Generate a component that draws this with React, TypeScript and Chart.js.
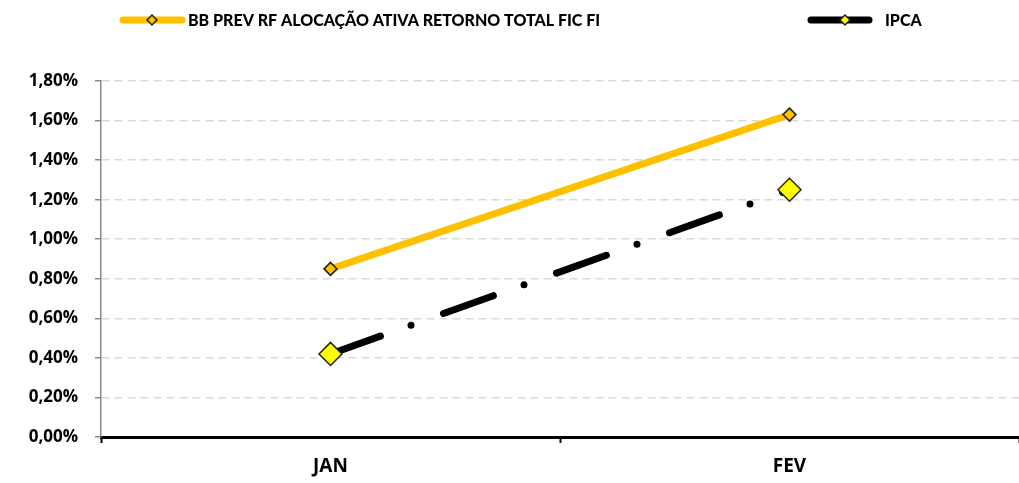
import React, { useEffect, useRef } from "react";
import { Chart, registerables } from "chart.js";

Chart.register(...registerables);

const categories = ["JAN", "FEV"];
const bbPrev = [0.85, 1.63];
const ipca = [0.42, 1.25];
const yTicks = [0, 0.2, 0.4, 0.6, 0.8, 1.0, 1.2, 1.4, 1.6, 1.8];
const seriesNames = ["BB PREV RF ALOCAÇÃO ATIVA RETORNO TOTAL FIC FI", "IPCA"];

const LEGEND_FONT = "Lato, 'Open Sans', sans-serif";
const TICK_FONT = "'Open Sans', Lato, sans-serif";

const legendPlugin = {
  id: "customLegend",
  afterDraw(chart: any) {
    const ctx = chart.ctx;
    ctx.save();
    const y = 20;
    ctx.lineCap = "round";
    ctx.strokeStyle = "#FFC000";
    ctx.lineWidth = 7;
    ctx.beginPath();
    ctx.moveTo(123, y);
    ctx.lineTo(182, y);
    ctx.stroke();
    drawDiamond(ctx, 152, y, 5, "#FFC000", "#222");
    ctx.strokeStyle = "#000";
    ctx.lineWidth = 7;
    ctx.lineCap = "round";
    ctx.beginPath();
    ctx.moveTo(811, y);
    ctx.lineTo(869, y);
    ctx.stroke();
    drawDiamond(ctx, 845, y, 5, "#FFFF00", "#222");
    ctx.fillStyle = "#000";
    ctx.font = `900 16px ${LEGEND_FONT}`;
    ctx.textBaseline = "middle";
    ctx.textAlign = "left";
    ctx.fillText(seriesNames[0], 188, y + 1);
    ctx.fillText(seriesNames[1], 885, y + 1);
    ctx.restore();
  },
};

function drawDiamond(ctx: any, x: number, y: number, r: number, fill: string, stroke: string) {
  ctx.beginPath();
  ctx.moveTo(x, y - r);
  ctx.lineTo(x + r, y);
  ctx.lineTo(x, y + r);
  ctx.lineTo(x - r, y);
  ctx.closePath();
  ctx.fillStyle = fill;
  ctx.fill();
  ctx.lineWidth = 1.5;
  ctx.lineCap = "butt";
  ctx.strokeStyle = stroke;
  ctx.stroke();
}

export default function App() {
  const ref = useRef<HTMLCanvasElement>(null);
  useEffect(() => {
    if (!ref.current) return;
    const chart = new Chart(ref.current, {
      type: "line",
      data: {
        labels: categories,
        datasets: [
          {
            label: seriesNames[0],
            data: bbPrev,
            borderColor: "#FFC000",
            borderWidth: 7,
            backgroundColor: "#FFC000",
            pointStyle: "rectRot",
            pointRadius: 6.5,
            pointBorderColor: "#222",
            pointBorderWidth: 1.5,
            pointBackgroundColor: "#FFC000",
            tension: 0,
          },
          {
            label: seriesNames[1],
            data: ipca,
            borderColor: "#000",
            borderWidth: 7,
            borderDash: [53, 32.5, 0, 34.5],
            borderCapStyle: "round",
            backgroundColor: "#FFFF00",
            pointStyle: "rectRot",
            pointRadius: 11.5,
            pointBorderColor: "#222",
            pointBorderWidth: 1.5,
            pointBackgroundColor: "#FFFF00",
            tension: 0,
          },
        ],
      },
      options: {
        animation: false,
        responsive: false,
        maintainAspectRatio: false,
        layout: { autoPadding: false, padding: { top: 81, left: 0, right: 0, bottom: 0 } },
        plugins: { legend: { display: false }, tooltip: { enabled: false } },
        scales: {
          x: {
            offset: true,
            grid: {
              offset: true,
              drawOnChartArea: false,
              drawTicks: true,
              tickLength: 6,
              tickColor: "#000",
              tickWidth: 2,
            },
            border: { display: true, color: "#000", width: 3 },
            ticks: {
              color: "#000",
              padding: 12,
              font: { family: TICK_FONT, size: 19, weight: "bold" },
            },
            afterFit(scale: any) {
              scale.height = 46;
              scale.paddingLeft = 0;
              scale.paddingRight = 0;
            },
          },
          y: {
            min: 0,
            max: 1.8,
            afterBuildTicks(scale: any) {
              scale.ticks = yTicks.map((v) => ({ value: v }));
            },
            grid: {
              color: "#D9D9D9",
              lineWidth: 1.5,
              drawTicks: true,
              tickLength: 6,
              tickColor: "#888",
              tickWidth: 1.5,
              tickBorderDash: [],
            },
            border: { display: true, color: "#888", width: 1.5, dash: [8, 5] },
            ticks: {
              color: "#000",
              padding: 17,
              font: { family: TICK_FONT, size: 17, weight: "bold" },
              callback: (v: any) => Number(v).toFixed(2).replace(".", ",") + "%",
            },
            afterFit(scale: any) {
              scale.width = 101;
              scale.paddingTop = 0;
              scale.paddingBottom = 0;
            },
          },
        },
      },
      plugins: [legendPlugin],
    } as any);
    return () => chart.destroy();
  }, []);
  return (
    <div style={{ position: "absolute", left: 0, top: 0, width: 1019, height: 483, background: "#fff" }}>
      <canvas ref={ref} width={1019} height={483} style={{ width: 1019, height: 483 }} />
    </div>
  );
}
